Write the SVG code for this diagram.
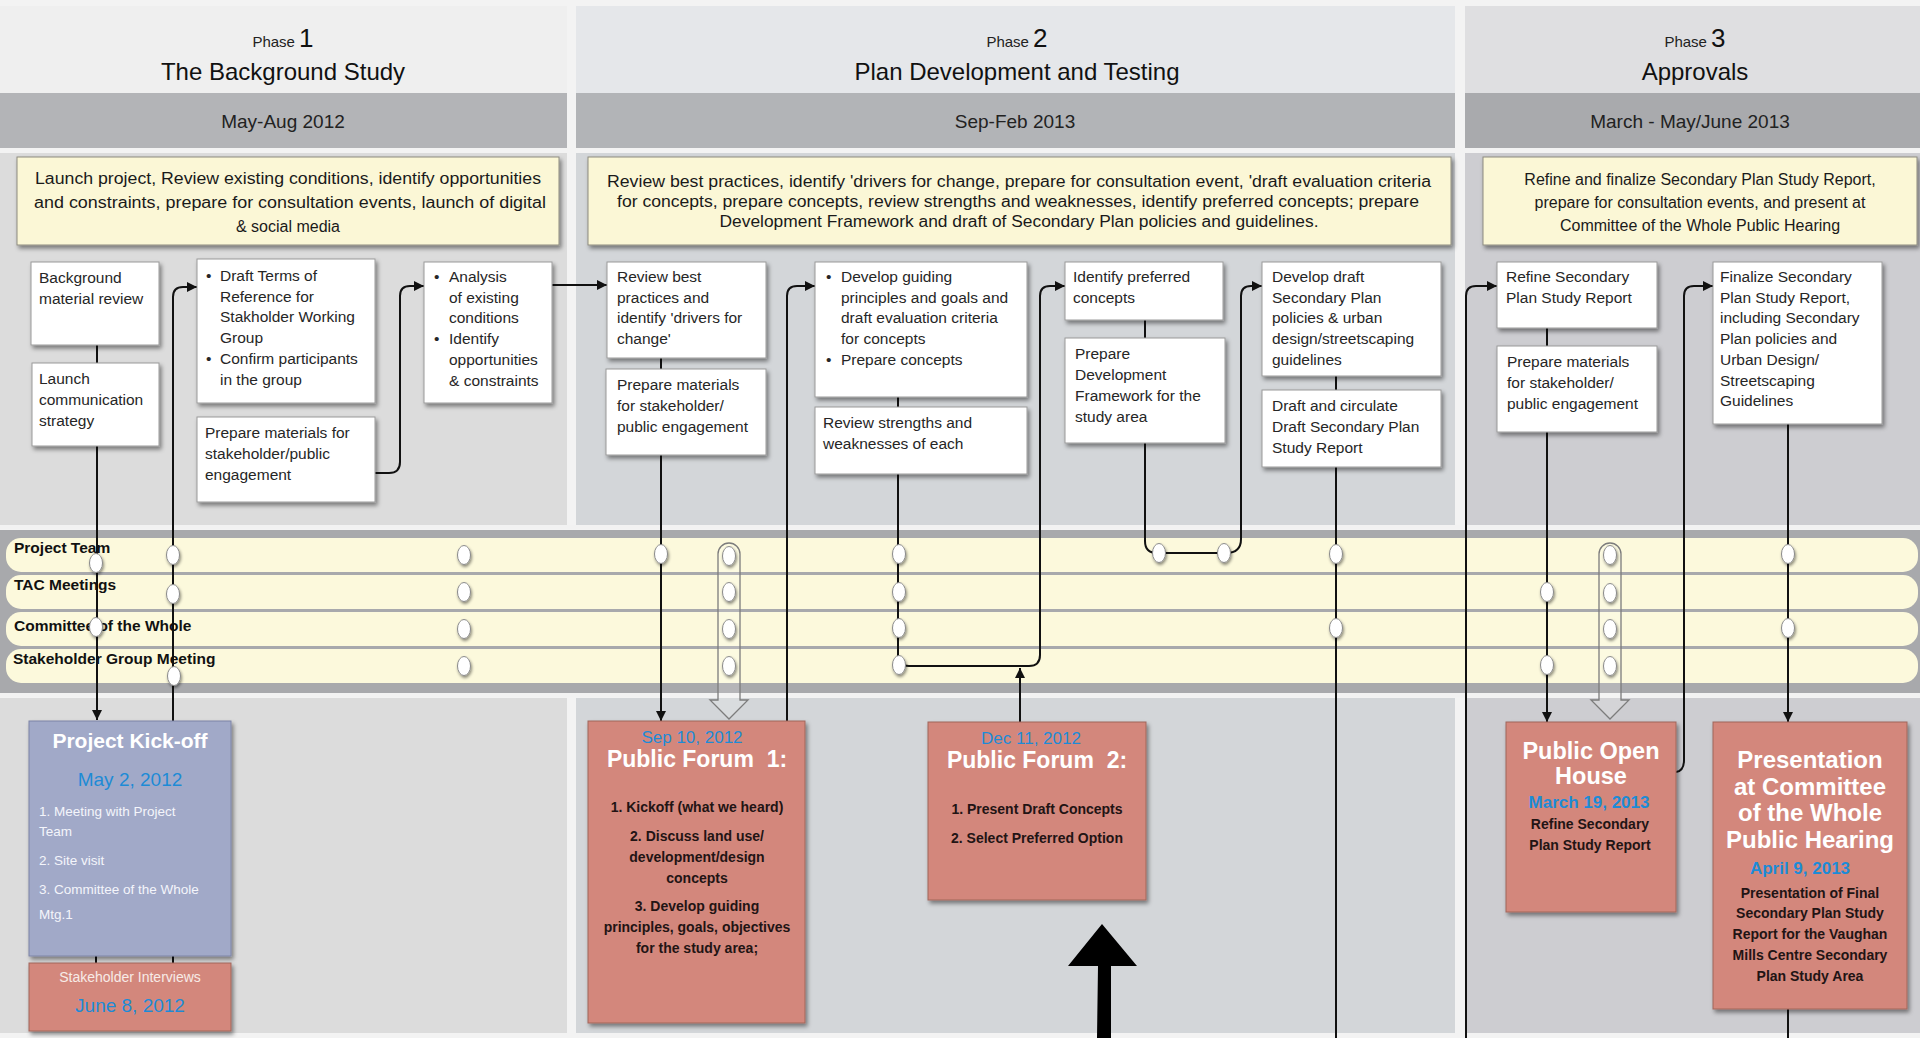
<svg xmlns="http://www.w3.org/2000/svg" width="1920" height="1038" viewBox="0 0 1920 1038">
<defs>
<style>
text{font-family:"Liberation Sans",Arial,sans-serif}
.ph{font-size:15px;fill:#222}
.pn{font-size:26px;fill:#111}
.tt{font-size:24px;fill:#111}
.dt{font-size:19px;fill:#222}
.yb{fill:#fbf7d6;stroke:#8d8b80;stroke-width:1;filter:url(#sh)}
.yt{font-size:16px;fill:#1a1a1a;text-anchor:middle}
.bx{fill:#fff;stroke:#9a9a9a;stroke-width:1;filter:url(#sh)}
.bt{font-size:15.5px;fill:#262626}
.ln{fill:#fcf9dc}
.lb{font-size:15.5px;font-weight:bold;fill:#111}
.cn{stroke:#111;stroke-width:2;fill:none}
.dot{fill:#fff;stroke:#8a8a8a;stroke-width:1;filter:url(#sh2)}
.ho{fill:rgba(255,255,255,0.15);stroke:#7c7c7c;stroke-width:1.3}
.sa{fill:#d3877b;stroke:#a0665c;stroke-width:1;filter:url(#sh)}
.ki{fill:#a1a9c8;stroke:#7c84a6;stroke-width:1;filter:url(#sh)}
.wt{fill:#fff;font-weight:bold;text-anchor:middle}
.bl{fill:#1d8bd6;text-anchor:middle}
.kt{font-size:14px;font-weight:bold;fill:#221414;text-anchor:middle}
</style>
<filter id="sh" x="-10%" y="-10%" width="125%" height="125%">
<feDropShadow dx="2" dy="3" stdDeviation="2" flood-color="#000" flood-opacity="0.45"/>
</filter>
<filter id="sh2" x="-50%" y="-50%" width="220%" height="200%">
<feDropShadow dx="1" dy="2" stdDeviation="1.5" flood-color="#000" flood-opacity="0.45"/>
</filter>
<marker id="ah" viewBox="0 0 10 10" refX="10" refY="5" markerWidth="11" markerHeight="10" markerUnits="userSpaceOnUse" orient="auto">
<path d="M0,0 L10,5 L0,10 Z" fill="#111"/>
</marker>
</defs>

<g id="background">
<rect x="0" y="0" width="1920" height="1038" fill="#f3f3f3"/>
<rect x="0" y="6" width="567" height="87" fill="#efefef"/>
<rect x="576" y="6" width="879" height="87" fill="#e5e7ea"/>
<rect x="1465" y="6" width="455" height="87" fill="#dfdfe1"/>
<rect x="0" y="93" width="567" height="55" fill="#b3b4b7"/>
<rect x="576" y="93" width="879" height="55" fill="#b2b4b7"/>
<rect x="1465" y="93" width="455" height="55" fill="#a9aaad"/>
<rect x="0" y="153" width="567" height="372" fill="#dcdcdc"/>
<rect x="576" y="153" width="879" height="372" fill="#d3d6d9"/>
<rect x="1465" y="153" width="455" height="372" fill="#cdcdd1"/>
<rect x="0" y="698" width="567" height="335" fill="#dcdcdc"/>
<rect x="576" y="698" width="879" height="335" fill="#d3d6d9"/>
<rect x="1465" y="698" width="455" height="335" fill="#cdcdd1"/>
<rect x="0" y="530" width="1920" height="163" fill="#a8a9ac"/>
</g>

<g id="phase-headers">
<text x="283" y="47" text-anchor="middle"><tspan class="ph">Phase </tspan><tspan class="pn">1</tspan></text>
<text x="283" y="80" text-anchor="middle" class="tt">The Background Study</text>
<text x="283" y="128" text-anchor="middle" class="dt">May-Aug 2012</text>
<text x="1017" y="47" text-anchor="middle"><tspan class="ph">Phase </tspan><tspan class="pn">2</tspan></text>
<text x="1017" y="80" text-anchor="middle" class="tt">Plan Development and Testing</text>
<text x="1015" y="128" text-anchor="middle" class="dt">Sep-Feb 2013</text>
<text x="1695" y="47" text-anchor="middle"><tspan class="ph">Phase </tspan><tspan class="pn">3</tspan></text>
<text x="1695" y="80" text-anchor="middle" class="tt">Approvals</text>
<text x="1690" y="128" text-anchor="middle" class="dt">March - May/June 2013</text>
</g>

<g id="summary-1">
<rect class="yb" x="17" y="157" width="542" height="88"/>
<text class="yt" x="288" y="184" textLength="506" lengthAdjust="spacingAndGlyphs">Launch project, Review existing conditions, identify opportunities</text>
<text class="yt" x="290" y="208" textLength="512" lengthAdjust="spacingAndGlyphs">and constraints, prepare for consultation events, launch of digital</text>
<text class="yt" x="288" y="232">&amp; social media</text>
</g>
<g id="summary-2">
<rect class="yb" x="588" y="157" width="863" height="88"/>
<text class="yt" x="1019" y="187" textLength="824" lengthAdjust="spacingAndGlyphs">Review best practices, identify 'drivers for change, prepare for consultation event, 'draft evaluation criteria</text>
<text class="yt" x="1018" y="207" textLength="802" lengthAdjust="spacingAndGlyphs">for concepts, prepare concepts, review strengths and weaknesses, identify preferred concepts; prepare</text>
<text class="yt" x="1019" y="227" textLength="599" lengthAdjust="spacingAndGlyphs">Development Framework and draft of Secondary Plan policies and guidelines.</text>
</g>
<g id="summary-3">
<rect class="yb" x="1483" y="157" width="434" height="88"/>
<text class="yt" x="1700" y="185">Refine and finalize Secondary Plan Study Report,</text>
<text class="yt" x="1700" y="208">prepare for consultation events, and present at</text>
<text class="yt" x="1700" y="231">Committee of the Whole Public Hearing</text>
</g>

<g id="lanes">
<rect x="0" y="525" width="1920" height="4" fill="#f2f2f2"/>
<rect x="0" y="693" width="1920" height="4" fill="#f2f2f2"/>
<rect class="ln" x="6" y="538" width="1912" height="34" rx="15"/>
<rect class="ln" x="6" y="575" width="1912" height="34" rx="15"/>
<rect class="ln" x="6" y="612" width="1912" height="34" rx="15"/>
<rect class="ln" x="6" y="649" width="1912" height="34" rx="15"/>
<text class="lb" x="14" y="553">Project Team</text>
<text class="lb" x="14" y="590">TAC Meetings</text>
<text class="lb" x="14" y="631">Committee of the Whole</text>
<text class="lb" x="13" y="664">Stakeholder Group Meeting</text>
</g>

<g id="connectors">
<path class="cn" d="M97,345 V363"/>
<path class="cn" d="M97,446 V720" marker-end="url(#ah)"/>
<path class="cn" d="M96,956 V963"/>
<path class="cn" d="M173,721 V297 Q173,287 183,287 H197" marker-end="url(#ah)"/>
<path class="cn" d="M173,956 V963"/>
<path class="cn" d="M375,473 H389 Q400,473 400,462 V296 Q400,286 410,286 H424" marker-end="url(#ah)"/>
<path class="cn" d="M552,285 H607" marker-end="url(#ah)"/>
<path class="cn" d="M661,358 V369"/>
<path class="cn" d="M661,455 V721" marker-end="url(#ah)"/>
<path class="cn" d="M787,721 V296 Q787,286 797,286 H815" marker-end="url(#ah)"/>
<path class="cn" d="M898,397 V407"/>
<path class="cn" d="M898,474 V655 Q898,666 909,666 H1029 Q1040,666 1040,655 V296 Q1040,286 1050,286 H1065" marker-end="url(#ah)"/>
<path class="cn" d="M1020,722 V668" marker-end="url(#ah)"/>
<path class="cn" d="M1145,320 V338"/>
<path class="cn" d="M1145,443 V541 Q1145,553 1157,553 H1226 Q1241,553 1241,539 V296 Q1241,286 1251,286 H1262" marker-end="url(#ah)"/>
<path class="cn" d="M1336,376 V390"/>
<path class="cn" d="M1336,467 V1038"/>
<path class="cn" d="M1466,1038 V296 Q1466,286 1476,286 H1497" marker-end="url(#ah)"/>
<path class="cn" d="M1547,328 V346"/>
<path class="cn" d="M1547,432 V722" marker-end="url(#ah)"/>
<path class="cn" d="M1676,772 Q1684,771 1684,760 V296 Q1684,286 1694,286 H1713" marker-end="url(#ah)"/>
<path class="cn" d="M1788,424 V722" marker-end="url(#ah)"/>
<path class="cn" d="M1788,1009 V1038"/>
<path class="ho" d="M718,700 V554 A11,11 0 0 1 740,554 V700 H748 L729,719 L710,700 Z"/>
<path class="ho" d="M1599,700 V554 A11,11 0 0 1 1621,554 V700 H1629 L1610,719 L1591,700 Z"/>
<path d="M1097,1038 L1098,966 L1068,966 L1102,924 L1137,966 L1111,966 L1111,1038 Z" fill="#000"/>
</g>

<g id="milestones">
<ellipse class="dot" cx="96" cy="563" rx="6.5" ry="9.5"/>
<ellipse class="dot" cx="96" cy="627" rx="6.5" ry="9.5"/>
<ellipse class="dot" cx="173" cy="555" rx="6.5" ry="9.5"/>
<ellipse class="dot" cx="173" cy="594" rx="6.5" ry="9.5"/>
<ellipse class="dot" cx="174" cy="676" rx="6.5" ry="9.5"/>
<ellipse class="dot" cx="464" cy="555" rx="6.5" ry="9.5"/>
<ellipse class="dot" cx="464" cy="592" rx="6.5" ry="9.5"/>
<ellipse class="dot" cx="464" cy="629" rx="6.5" ry="9.5"/>
<ellipse class="dot" cx="464" cy="666" rx="6.5" ry="9.5"/>
<ellipse class="dot" cx="661" cy="554" rx="6.5" ry="9.5"/>
<ellipse class="dot" cx="729" cy="556" rx="6.5" ry="9.5"/>
<ellipse class="dot" cx="729" cy="592" rx="6.5" ry="9.5"/>
<ellipse class="dot" cx="729" cy="629" rx="6.5" ry="9.5"/>
<ellipse class="dot" cx="729" cy="666" rx="6.5" ry="9.5"/>
<ellipse class="dot" cx="899" cy="554" rx="6.5" ry="9.5"/>
<ellipse class="dot" cx="899" cy="592" rx="6.5" ry="9.5"/>
<ellipse class="dot" cx="899" cy="628" rx="6.5" ry="9.5"/>
<ellipse class="dot" cx="899" cy="665" rx="6.5" ry="9.5"/>
<ellipse class="dot" cx="1159" cy="553" rx="6.5" ry="9.5"/>
<ellipse class="dot" cx="1224" cy="553" rx="6.5" ry="9.5"/>
<ellipse class="dot" cx="1336" cy="554" rx="6.5" ry="9.5"/>
<ellipse class="dot" cx="1336" cy="628" rx="6.5" ry="9.5"/>
<ellipse class="dot" cx="1547" cy="592" rx="6.5" ry="9.5"/>
<ellipse class="dot" cx="1547" cy="665" rx="6.5" ry="9.5"/>
<ellipse class="dot" cx="1610" cy="555" rx="6.5" ry="9.5"/>
<ellipse class="dot" cx="1610" cy="593" rx="6.5" ry="9.5"/>
<ellipse class="dot" cx="1610" cy="629" rx="6.5" ry="9.5"/>
<ellipse class="dot" cx="1610" cy="666" rx="6.5" ry="9.5"/>
<ellipse class="dot" cx="1788" cy="554" rx="6.5" ry="9.5"/>
<ellipse class="dot" cx="1788" cy="628" rx="6.5" ry="9.5"/>
</g>

<g id="task-background-review">
<rect class="bx" x="31" y="262" width="128" height="83"/>
<text class="bt" x="39" y="283">Background</text>
<text class="bt" x="39" y="304">material review</text>
</g>
<g id="task-launch-communication">
<rect class="bx" x="32" y="363" width="127" height="83"/>
<text class="bt" x="39" y="384">Launch</text>
<text class="bt" x="39" y="405">communication</text>
<text class="bt" x="39" y="426">strategy</text>
</g>
<g id="task-draft-terms">
<rect class="bx" x="197" y="259" width="178" height="144"/>
<text class="bt" x="206" y="281">•</text><text class="bt" x="220" y="281">Draft Terms of</text>
<text class="bt" x="220" y="302">Reference for</text>
<text class="bt" x="220" y="322">Stakholder Working</text>
<text class="bt" x="220" y="343">Group</text>
<text class="bt" x="206" y="364">•</text><text class="bt" x="220" y="364">Confirm participants</text>
<text class="bt" x="220" y="385">in the group</text>
</g>
<g id="task-prepare-materials-1">
<rect class="bx" x="197" y="417" width="178" height="85"/>
<text class="bt" x="205" y="438">Prepare materials for</text>
<text class="bt" x="205" y="459">stakeholder/public</text>
<text class="bt" x="205" y="480">engagement</text>
</g>
<g id="task-analysis">
<rect class="bx" x="424" y="262" width="128" height="141"/>
<text class="bt" x="434" y="282">•</text><text class="bt" x="449" y="282">Analysis</text>
<text class="bt" x="449" y="303">of existing</text>
<text class="bt" x="449" y="323">conditions</text>
<text class="bt" x="434" y="344">•</text><text class="bt" x="449" y="344">Identify</text>
<text class="bt" x="449" y="365">opportunities</text>
<text class="bt" x="449" y="386">&amp; constraints</text>
</g>

<g id="task-review-best">
<rect class="bx" x="607" y="262" width="159" height="96"/>
<text class="bt" x="617" y="282">Review best</text>
<text class="bt" x="617" y="303">practices and</text>
<text class="bt" x="617" y="323">identify 'drivers for</text>
<text class="bt" x="617" y="344">change'</text>
</g>
<g id="task-prepare-materials-2">
<rect class="bx" x="606" y="369" width="160" height="86"/>
<text class="bt" x="617" y="390">Prepare materials</text>
<text class="bt" x="617" y="411">for stakeholder/</text>
<text class="bt" x="617" y="432">public engagement</text>
</g>
<g id="task-develop-guiding">
<rect class="bx" x="815" y="262" width="212" height="135"/>
<text class="bt" x="826" y="282">•</text><text class="bt" x="841" y="282">Develop guiding</text>
<text class="bt" x="841" y="303">principles and goals and</text>
<text class="bt" x="841" y="323">draft evaluation criteria</text>
<text class="bt" x="841" y="344">for concepts</text>
<text class="bt" x="826" y="365">•</text><text class="bt" x="841" y="365">Prepare concepts</text>
</g>
<g id="task-review-strengths">
<rect class="bx" x="815" y="407" width="212" height="67"/>
<text class="bt" x="823" y="428">Review strengths and</text>
<text class="bt" x="823" y="449">weaknesses of each</text>
</g>
<g id="task-identify-preferred">
<rect class="bx" x="1065" y="262" width="158" height="58"/>
<text class="bt" x="1073" y="282">Identify preferred</text>
<text class="bt" x="1073" y="303">concepts</text>
</g>
<g id="task-development-framework">
<rect class="bx" x="1065" y="338" width="160" height="105"/>
<text class="bt" x="1075" y="359">Prepare</text>
<text class="bt" x="1075" y="380">Development</text>
<text class="bt" x="1075" y="401">Framework for the</text>
<text class="bt" x="1075" y="422">study area</text>
</g>
<g id="task-develop-draft">
<rect class="bx" x="1262" y="262" width="179" height="114"/>
<text class="bt" x="1272" y="282">Develop draft</text>
<text class="bt" x="1272" y="303">Secondary Plan</text>
<text class="bt" x="1272" y="323">policies &amp; urban</text>
<text class="bt" x="1272" y="344">design/streetscaping</text>
<text class="bt" x="1272" y="365">guidelines</text>
</g>
<g id="task-draft-circulate">
<rect class="bx" x="1262" y="390" width="179" height="77"/>
<text class="bt" x="1272" y="411">Draft and circulate</text>
<text class="bt" x="1272" y="432">Draft Secondary Plan</text>
<text class="bt" x="1272" y="453">Study Report</text>
</g>

<g id="task-refine">
<rect class="bx" x="1497" y="262" width="160" height="66"/>
<text class="bt" x="1506" y="282">Refine Secondary</text>
<text class="bt" x="1506" y="303">Plan Study Report</text>
</g>
<g id="task-prepare-materials-3">
<rect class="bx" x="1497" y="346" width="160" height="86"/>
<text class="bt" x="1507" y="367">Prepare materials</text>
<text class="bt" x="1507" y="388">for stakeholder/</text>
<text class="bt" x="1507" y="409">public engagement</text>
</g>
<g id="task-finalize">
<rect class="bx" x="1713" y="262" width="169" height="162"/>
<text class="bt" x="1720" y="282">Finalize Secondary</text>
<text class="bt" x="1720" y="303">Plan Study Report,</text>
<text class="bt" x="1720" y="323">including Secondary</text>
<text class="bt" x="1720" y="344">Plan policies and</text>
<text class="bt" x="1720" y="365">Urban Design/</text>
<text class="bt" x="1720" y="386">Streetscaping</text>
<text class="bt" x="1720" y="406">Guidelines</text>
</g>

<g id="event-kickoff">
<rect class="ki" x="29" y="721" width="202" height="235"/>
<text class="wt" x="130" y="748" font-size="21">Project Kick-off</text>
<text class="bl" x="130" y="786" font-size="19">May 2, 2012</text>
<text x="39" y="816" font-size="13.5" fill="#f4f5fb">1. Meeting with Project</text>
<text x="39" y="836" font-size="13.5" fill="#f4f5fb">Team</text>
<text x="39" y="865" font-size="13.5" fill="#f4f5fb">2. Site visit</text>
<text x="39" y="894" font-size="13.5" fill="#f4f5fb">3. Committee of the Whole</text>
<text x="39" y="919" font-size="13.5" fill="#f4f5fb">Mtg.1</text>
</g>
<g id="event-stakeholder-interviews">
<rect class="sa" x="29" y="963" width="202" height="68"/>
<text x="130" y="982" font-size="14" fill="#f7ebe7" text-anchor="middle">Stakeholder Interviews</text>
<text class="bl" x="130" y="1012" font-size="19">June 8, 2012</text>
</g>
<g id="event-public-forum-1">
<rect class="sa" x="588" y="721" width="217" height="302"/>
<text class="bl" x="692" y="743" font-size="17">Sep 10, 2012</text>
<text class="wt" x="697" y="767" font-size="23" xml:space="preserve">Public Forum  1:</text>
<text class="kt" x="697" y="812">1. Kickoff (what we heard)</text>
<text class="kt" x="697" y="841">2. Discuss land use/</text>
<text class="kt" x="697" y="862">development/design</text>
<text class="kt" x="697" y="883">concepts</text>
<text class="kt" x="697" y="911">3. Develop guiding</text>
<text class="kt" x="697" y="932">principles, goals, objectives</text>
<text class="kt" x="697" y="953">for the study area;</text>
</g>
<g id="event-public-forum-2">
<rect class="sa" x="928" y="722" width="218" height="178"/>
<text class="bl" x="1031" y="744" font-size="17">Dec 11, 2012</text>
<text class="wt" x="1037" y="768" font-size="23" xml:space="preserve">Public Forum  2:</text>
<text class="kt" x="1037" y="814" font-size="14.5">1. Present Draft Concepts</text>
<text class="kt" x="1037" y="843" font-size="14.5">2. Select Preferred Option</text>
</g>
<g id="event-open-house">
<rect class="sa" x="1506" y="722" width="170" height="190"/>
<text class="wt" x="1591" y="759" font-size="23.5">Public Open</text>
<text class="wt" x="1591" y="784" font-size="23.5">House</text>
<text class="bl" x="1589" y="808" font-size="17" font-weight="bold">March 19, 2013</text>
<text class="kt" x="1590" y="829" font-size="14.5">Refine Secondary</text>
<text class="kt" x="1590" y="850" font-size="14.5">Plan Study Report</text>
</g>
<g id="event-public-hearing">
<rect class="sa" x="1713" y="722" width="194" height="287"/>
<text class="wt" x="1810" y="768" font-size="24">Presentation</text>
<text class="wt" x="1810" y="795" font-size="24">at Committee</text>
<text class="wt" x="1810" y="821" font-size="24">of the Whole</text>
<text class="wt" x="1810" y="848" font-size="24">Public Hearing</text>
<text class="bl" x="1800" y="874" font-size="17" font-weight="bold">April 9, 2013</text>
<text class="kt" x="1810" y="898" font-size="14.5">Presentation of Final</text>
<text class="kt" x="1810" y="918" font-size="14.5">Secondary Plan Study</text>
<text class="kt" x="1810" y="939" font-size="14.5">Report for the Vaughan</text>
<text class="kt" x="1810" y="960" font-size="14.5">Mills Centre Secondary</text>
<text class="kt" x="1810" y="981" font-size="14.5">Plan Study Area</text>
</g>
</svg>
